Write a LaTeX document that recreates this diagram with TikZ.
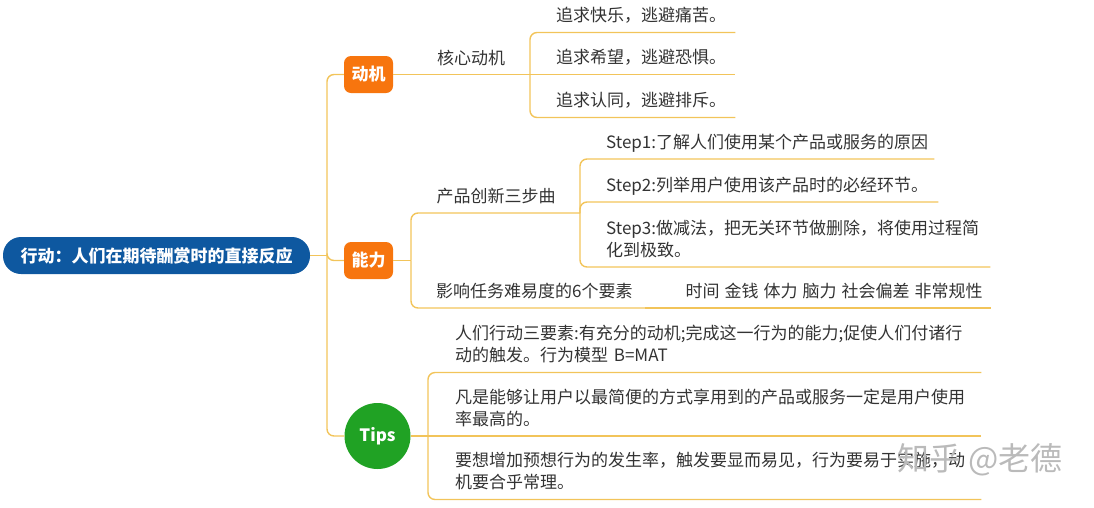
\documentclass[tikz,border=0pt]{standalone}
\usepackage{fontspec}
\setmainfont{Noto Sans CJK SC}
\usetikzlibrary{positioning}
\definecolor{rootblue}{RGB}{14,88,160}
\definecolor{boxorange}{RGB}{247,117,14}
\definecolor{tipsgreen}{RGB}{32,162,36}
\definecolor{linkgold}{RGB}{242,196,90}
\definecolor{txt}{RGB}{51,51,51}
\begin{document}
\begin{tikzpicture}[x=1pt,y=-1pt,
  link/.style={draw=linkgold, line width=1.4pt, rounded corners=7pt},
  rootbox/.style={fill=rootblue, text=white, rounded corners=18pt, minimum width=307pt, minimum height=37pt, font=\bfseries\fontsize{17}{20}\selectfont},
  topic/.style={fill=boxorange, text=white, rounded corners=7pt, minimum width=49pt, minimum height=37pt, font=\bfseries\fontsize{17}{20}\selectfont},
  tipsdot/.style={circle, fill=tipsgreen, text=white, minimum size=66pt, inner sep=0pt, font=\bfseries\fontsize{17}{20}\selectfont},
  sub/.style={text=txt, inner sep=0pt, font=\fontsize{17}{22}\selectfont},
  leaf/.style={anchor=south west, align=left, inner xsep=12pt, inner ysep=4pt, text=txt, font=\fontsize{17}{22}\selectfont, execute at end node=\strut},
  wmark/.style={text=black!27, font=\fontsize{32}{32}\selectfont}]
\useasboundingbox (0,0) rectangle (1094,507);
\node[rootbox] (act) at (156.5,255.5) {行动：人们在期待酬赏时的直接反应};
\node[topic] (mot) at (368.5,74.5) {动机};
\node[topic] (abl) at (368.5,260.5) {能力};
\node[tipsdot] (tips) at (377.5,436) {Tips};
\coordinate (fork) at (327,255.5);
\coordinate (jMot) at (530,74.5);
\coordinate (jAbl) at (411,260.5);
\coordinate (jSteps) at (580,213);
\coordinate (jTips) at (428,436);
% motivation
\node[sub] (core) at (471,58) {核心动机};
\node[leaf, text width=167pt] (m1) at (544,32.5) {追求快乐，逃避痛苦。};
\node[leaf, text width=167pt] (m2) at (544,74.5) {追求希望，逃避恐惧。};
\node[leaf, text width=167pt] (m3) at (544,117.5) {追求认同，逃避排斥。};
% ability
\node[sub] (steps) at (496,196) {产品创新三步曲};
\node[leaf, text width=316pt] (s1) at (594,159) {Step1:了解人们使用某个产品或服务的原因};
\node[leaf, text width=320pt] (s2) at (594,202) {Step2:列举用户使用该产品时的必经环节。};
\node[leaf, text width=372pt] (s3) at (594,267) {Step3:做减法，把无关环节做删除，将使用过程简\\化到极致。};
\node[leaf, text width=197pt] (diff) at (424,308) {影响任务难易度的6个要素};
\node[leaf, text width=305pt, inner xsep=0pt, right=40pt of diff.south east, anchor=south west] (fac) {\mbox{时间\hspace{5pt}金钱\hspace{5pt}体力\hspace{5pt}脑力\hspace{5pt}社会偏差\hspace{5pt}非常规性}};
% tips
\node[leaf, text width=514pt] (t1) at (443,372.5) {人们行动三要素:有充分的动机;完成这一行为的能力;促使人们付诸行\\动的触发。行为模型 B=MAT};
\node[leaf, text width=514pt] (t2) at (443,436) {凡是能够让用户以最简便的方式享用到的产品或服务一定是用户使用\\率最高的。};
\node[leaf, text width=514pt] (t3) at (443,499.5) {要想增加预想行为的发生率，触发要显而易见，行为要易于实施，动\\机要合乎常理。};
\draw[link] (act.east) -- (fork);
\draw[link] (fork) |- (mot.west);
\draw[link] (fork) |- (abl.west);
\draw[link] (fork) |- (tips.west);
\draw[link] (mot.east) -- (jMot);
\draw[link] (jMot) |- (m1.south west) -- (m1.south east);
\draw[link] (jMot) -- (m2.south west) -- (m2.south east);
\draw[link] (jMot) |- (m3.south west) -- (m3.south east);
\draw[link] (abl.east) -- (jAbl);
\draw[link] (jAbl) |- (jSteps);
\draw[link] (jSteps) |- (s1.south west) -- (s1.south east);
\draw[link] (jSteps) |- (s2.south west) -- (s2.south east);
\draw[link] (jSteps) |- (s3.south west) -- (s3.south east);
\draw[link] (jAbl) |- (diff.south west) -- (diff.south east);
\draw[link] (diff.south east) -- (fac.south west) -- (fac.south east);
\draw[link] (tips.east) -- (jTips);
\draw[link] (jTips) |- (t1.south west) -- (t1.south east);
\draw[link] (jTips) -- (t2.south west) -- (t2.south east);
\draw[link] (jTips) |- (t3.south west) -- (t3.south east);
\node[wmark] (zhihu) at (980,460) {知乎 @老德};
\end{tikzpicture}
\end{document}
